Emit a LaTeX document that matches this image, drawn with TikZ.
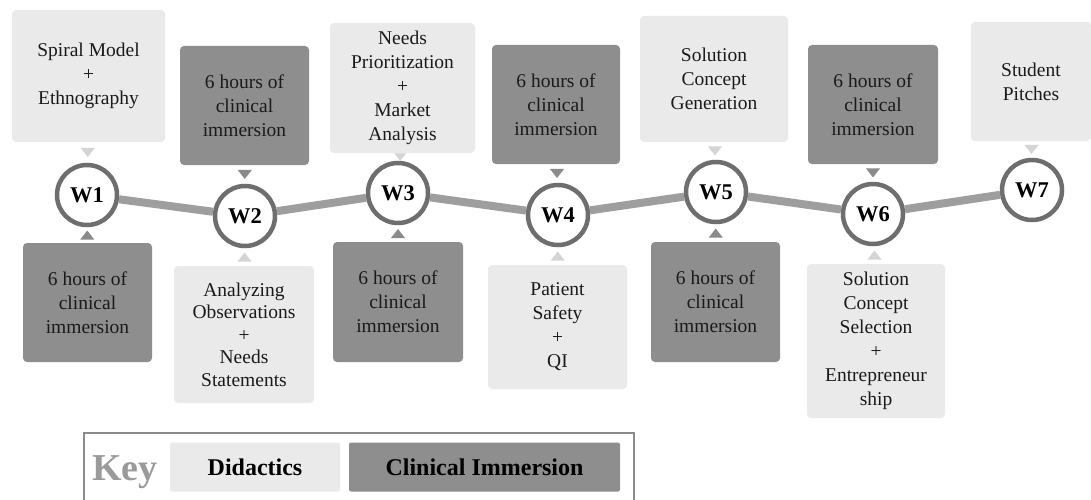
\documentclass[tikz,border=0pt]{standalone}
\usepackage{fontspec}
\setmainfont{Liberation Serif}
\usetikzlibrary{calc}
\definecolor{didfill}{HTML}{EAEAEA}
\definecolor{clinfill}{HTML}{8E8E8E}
\definecolor{didtri}{HTML}{D4D4D4}
\definecolor{clintri}{HTML}{8A8A8A}
\definecolor{conncol}{HTML}{9E9E9E}
\definecolor{ringcol}{HTML}{6E6E6E}
\definecolor{keygray}{HTML}{9A9A9A}
\definecolor{keyframe}{HTML}{8C8C8C}
\definecolor{txt}{HTML}{1A1A1A}
\begin{document}
\begin{tikzpicture}[x=1pt,y=-1pt,
  box/.style={rounded corners=4pt, align=center, inner sep=0pt, text=txt, font=\fontsize{19.5}{24}\selectfont},
  did/.style={box, fill=didfill},
  clin/.style={box, fill=clinfill},
  week/.style={circle, draw=ringcol, line width=4.5pt, fill=white, minimum size=60pt, inner sep=0pt, text=black, font=\fontsize{22.5}{24}\selectfont\bfseries},
  conn/.style={draw=conncol, line width=8pt},
  keybox/.style={rounded corners=2pt, inner sep=0pt, text=black, minimum height=49pt, font=\fontsize{24}{26}\selectfont\bfseries},
]
\fill[white] (0,0) rectangle (1091,500);
\clip (0,0) rectangle (1091,500);

% week circles
\node[week] (w1) at (87,195) {W1};
\node[week] (w2) at (245,216) {W2};
\node[week] (w3) at (398,193) {W3};
\node[week] (w4) at (558,215) {W4};
\node[week] (w5) at (716,192) {W5};
\node[week] (w6) at (873,214) {W6};
\node[week] (w7) at (1032,190) {W7};

% connectors
\draw[conn] (w1) -- (w2);
\draw[conn] (w2) -- (w3);
\draw[conn] (w3) -- (w4);
\draw[conn] (w4) -- (w5);
\draw[conn] (w5) -- (w6);
\draw[conn] (w6) -- (w7);

% top boxes
\node[did, minimum width=153pt, minimum height=132pt] (t1) at (88.5,76) {Spiral Model\\+\\Ethnography};
\node[clin, minimum width=129pt, minimum height=119pt] (t2) at (244.5,105.5) {6 hours of\\clinical\\immersion};
\node[did, minimum width=145pt, minimum height=130pt] (t3) at (402.5,88) {Needs\\Prioritization\\+\\Market\\Analysis};
\node[clin, minimum width=128pt, minimum height=119pt] (t4) at (556,104.5) {6 hours of\\clinical\\immersion};
\node[did, minimum width=148pt, minimum height=126pt] (t5) at (714,79) {Solution\\Concept\\Generation};
\node[clin, minimum width=130pt, minimum height=119pt] (t6) at (873,104.5) {6 hours of\\clinical\\immersion};
\node[did, minimum width=120pt, minimum height=119pt] (t7) at (1031,81.5) {Student\\Pitches};

% bottom boxes
\node[clin, minimum width=129pt, minimum height=119pt] (b1) at (87.5,302.5) {6 hours of\\clinical\\immersion};
\node[did, minimum width=140pt, minimum height=137pt, font=\fontsize{19.5}{22.5}\selectfont] (b2) at (244,334.5) {Analyzing\\Observations\\+\\Needs\\Statements};
\node[clin, minimum width=130pt, minimum height=120pt] (b3) at (398,302) {6 hours of\\clinical\\immersion};
\node[did, minimum width=139pt, minimum height=124pt] (b4) at (557.5,327) {Patient\\Safety\\+\\QI};
\node[clin, minimum width=129pt, minimum height=120pt] (b5) at (715.5,302) {6 hours of\\clinical\\immersion};
\node[did, minimum width=138pt, minimum height=154pt] (b6) at (876,341) {Solution\\Concept\\Selection\\+\\Entrepreneur\\ship};

% pointer triangles (top boxes, pointing down)
\coordinate (p1) at ($(t1.south)!0.5!(w1.north)$);
\coordinate (p2) at ($(t2.south)!0.5!(w2.north)$);
\coordinate (p3) at ($(t3.south)!0.5!(w3.north)$);
\coordinate (p4) at ($(t4.south)!0.5!(w4.north)$);
\coordinate (p5) at ($(t5.south)!0.5!(w5.north)$);
\coordinate (p6) at ($(t6.south)!0.5!(w6.north)$);
\coordinate (p7) at ($(t7.south)!0.5!(w7.north)$);
\fill[didtri]  (p1) ++(-7,-4.5) -- ++(14,0) -- ++(-7,9) -- cycle;
\fill[clintri] (p2) ++(-7,-4.5) -- ++(14,0) -- ++(-7,9) -- cycle;
\fill[didtri]  (p3) ++(-6,-3.5) -- ++(12,0) -- ++(-6,7) -- cycle;
\fill[clintri] (p4) ++(-7,-4.5) -- ++(14,0) -- ++(-7,9) -- cycle;
\fill[didtri]  (p5) ++(-7,-4.5) -- ++(14,0) -- ++(-7,9) -- cycle;
\fill[clintri] (p6) ++(-7,-4.5) -- ++(14,0) -- ++(-7,9) -- cycle;
\fill[didtri]  (p7) ++(-7,-4.5) -- ++(14,0) -- ++(-7,9) -- cycle;

% pointer triangles (bottom boxes, pointing up)
\coordinate (q1) at ($(b1.north)!0.5!(w1.south)$);
\coordinate (q2) at ($(b2.north)!0.5!(w2.south)$);
\coordinate (q3) at ($(b3.north)!0.5!(w3.south)$);
\coordinate (q4) at ($(b4.north)!0.5!(w4.south)$);
\coordinate (q5) at ($(b5.north)!0.5!(w5.south)$);
\coordinate (q6) at ($(b6.north)!0.5!(w6.south)$);
\fill[clintri] (q1) ++(-7,4.5) -- ++(14,0) -- ++(-7,-9) -- cycle;
\fill[didtri]  (q2) ++(-7,4.5) -- ++(14,0) -- ++(-7,-9) -- cycle;
\fill[clintri] (q3) ++(-7,4.5) -- ++(14,0) -- ++(-7,-9) -- cycle;
\fill[didtri]  (q4) ++(-7,4.5) -- ++(14,0) -- ++(-7,-9) -- cycle;
\fill[clintri] (q5) ++(-7,4.5) -- ++(14,0) -- ++(-7,-9) -- cycle;
\fill[didtri]  (q6) ++(-7,4.5) -- ++(14,0) -- ++(-7,-9) -- cycle;

% key
\node[draw=keyframe, line width=2pt, minimum width=550pt, minimum height=110pt, inner sep=0pt, anchor=north west] (keyfr) at (83,432) {};
\node[anchor=base, text=keygray, inner sep=0pt, font=\fontsize{38}{40}\selectfont\bfseries] (keylbl) at (125,480) {Key};
\node[keybox, fill=didfill, minimum width=170pt] (kd) at (255,467) {Didactics};
\node[keybox, fill=clinfill, minimum width=271pt] (kc) at (484.5,467) {Clinical Immersion};
\end{tikzpicture}
\end{document}
